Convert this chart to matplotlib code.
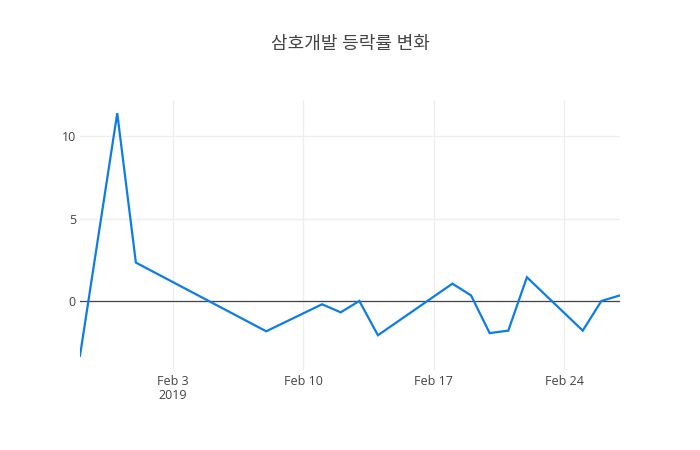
import matplotlib
matplotlib.use("Agg")
import matplotlib.pyplot as plt
import matplotlib.dates as mdates
import numpy as np
import datetime as dt

plt.rcParams['font.family'] = ['Open Sans', 'Noto Sans CJK KR', 'DejaVu Sans']

dates = ["2019-01-29", "2019-01-31", "2019-02-01", "2019-02-08", "2019-02-11",
         "2019-02-12", "2019-02-13", "2019-02-14", "2019-02-18", "2019-02-19",
         "2019-02-20", "2019-02-21", "2019-02-22", "2019-02-25", "2019-02-26",
         "2019-02-27"]
values = [-3.32, 11.4, 2.33, -1.84, -0.2, -0.69, 0.0, -2.08, 1.05, 0.34,
          -1.95, -1.8, 1.44, -1.8, 0.0, 0.34]
title = "삼호개발 등락률 변화"
xtick_dates = ["2019-02-03", "2019-02-10", "2019-02-17", "2019-02-24"]
xtick_labels = ["Feb 3\n2019", "Feb 10", "Feb 17", "Feb 24"]
ytick_vals = [0, 5, 10]

x = [dt.datetime.strptime(d, "%Y-%m-%d") for d in dates]
xt = [dt.datetime.strptime(d, "%Y-%m-%d") for d in xtick_dates]

fig = plt.figure(figsize=(7, 4.5), dpi=100)
ax = fig.add_axes([80/700, 80/450, 540/700, 270/450])
ax.plot(x, values, color='#0c7ce6', linewidth=1.6, solid_joinstyle='miter', zorder=3)
ax.axhline(0, color='#444444', linewidth=0.9, zorder=2)

ax.set_xlim(x[0], x[-1])
ax.set_ylim(-4.19, 12.2)
ax.set_xticks(xt)
ax.set_xticklabels(xtick_labels)
ax.set_yticks(ytick_vals)
ax.set_yticklabels([str(v) for v in ytick_vals])
ax.grid(True, color='#eeeeee', linewidth=0.9, zorder=0)
ax.set_axisbelow(True)
for s in ax.spines.values():
    s.set_visible(False)
ax.tick_params(axis='both', length=0, labelsize=9, colors='#444444')
ax.tick_params(axis='x', pad=3.5)
ax.tick_params(axis='y', pad=3)
for lab in ax.get_xticklabels():
    lab.set_linespacing(1.15)

fig.text(0.5, 1 - 44/450, title, ha='center', va='center', fontsize=13, color='#444444')
fig.savefig("out.png", dpi=100, facecolor='white')
